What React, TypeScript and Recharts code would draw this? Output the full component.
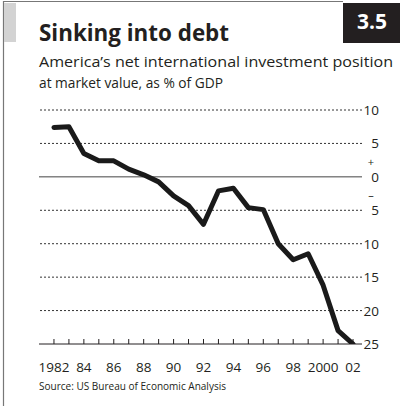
import React from 'react';
import { LineChart, Line, XAxis, YAxis, ReferenceLine } from 'recharts';

const years = [1982, 1983, 1984, 1985, 1986, 1987, 1988, 1989, 1990, 1991, 1992, 1993, 1994, 1995, 1996, 1997, 1998, 1999, 2000, 2001, 2002];
const netPosition = [7.4, 7.5, 3.5, 2.4, 2.4, 1.15, 0.3, -0.75, -2.85, -4.3, -7.1, -2.1, -1.7, -4.6, -4.9, -10.0, -12.4, -11.5, -16.2, -23.0, -25.0];
const yearLabels: Record<number, string> = {
  1982: '1982', 1984: '84', 1986: '86', 1988: '88', 1990: '90', 1992: '92',
  1994: '94', 1996: '96', 1998: '98', 2000: '2000', 2002: '02',
};
const yTicks = [10, 5, 0, -5, -10, -15, -20, -25];
const dottedGrid = [10, 5, -5, -10, -15, -20];

const title = 'Sinking into debt';
const subtitle1 = 'America\u2019s net international investment position';
const subtitle2 = 'at market value, as % of GDP';
const chartNumber = '3.5';
const source = 'Source: US Bureau of Economic Analysis';

const data = years.map((year, i) => ({ year, value: netPosition[i] }));

const FONT = '"Open Sans", Lato, sans-serif';
const INK = '#231f20';

const XTick = (props: any) => {
  const { x, y, payload } = props;
  const label = yearLabels[payload.value];
  return (
    <g>
      <line x1={x} x2={x} y1={y - 5} y2={y} stroke={INK} strokeWidth={1} />
      {label ? (
        <text x={x} y={y + 28} textAnchor="middle" fontFamily={FONT} fontSize={13.5} fill={INK}>
          {label}
        </text>
      ) : null}
    </g>
  );
};

const YTick = (props: any) => {
  const { x, y, payload } = props;
  const v = payload.value as number;
  return (
    <g>
      <text x={x + 17} y={y + 5} textAnchor="end" fontFamily={FONT} fontSize={13.5} fill={INK}>
        {Math.abs(v)}
      </text>
      {v === 0 ? (
        <>
          <text x={x + 9} y={y - 10.5} textAnchor="middle" fontFamily={FONT} fontSize={11} fill={INK}>+</text>
          <text x={x + 9} y={y + 22.5} textAnchor="middle" fontFamily={FONT} fontSize={11} fill={INK}>{'\u2013'}</text>
        </>
      ) : null}
    </g>
  );
};

export default function App() {
  return (
    <div style={{ position: 'absolute', left: 0, top: 0, width: 402, height: 406, background: '#fff', overflow: 'hidden' }}>
      <LineChart width={402} height={406} data={data} margin={{ top: 110, right: 20, bottom: 32, left: 39 }}>
        {dottedGrid.map((v) => (
          <ReferenceLine key={v} y={v} stroke="#333" strokeWidth={1} strokeDasharray="2 2" ifOverflow="visible" />
        ))}
        <ReferenceLine y={0} stroke="#444" strokeWidth={1} />
        <XAxis
          dataKey="year"
          type="number"
          domain={[1981, 2002.6]}
          ticks={years}
          interval={0}
          height={30}
          tickSize={0}
          tickMargin={0}
          axisLine={{ stroke: INK, strokeWidth: 1 }}
          tickLine={false}
          tick={<XTick />}
          allowDataOverflow
        />
        <YAxis
          orientation="right"
          type="number"
          domain={[-25, 10]}
          ticks={yTicks}
          interval={0}
          width={20}
          tickSize={0}
          tickMargin={0}
          axisLine={false}
          tickLine={false}
          tick={<YTick />}
          allowDataOverflow
        />
        <Line
          type="linear"
          dataKey="value"
          stroke="#1a1a1a"
          strokeWidth={5}
          strokeLinejoin="round"
          strokeLinecap="round"
          dot={false}
          isAnimationActive={false}
        />
      </LineChart>
      <svg width={402} height={406} style={{ position: 'absolute', left: 0, top: 0, pointerEvents: 'none' }}>
        <line x1={3.5} x2={3.5} y1={1} y2={406} stroke="#777" strokeWidth={1.2} />
        <line x1={3} x2={343} y1={1.5} y2={1.5} stroke="#777" strokeWidth={1.2} />
        <rect x={4} y={3} width={12} height={39} fill="#d3d3d3" />
        <rect x={343} y={3} width={57} height={40} fill={INK} />
        <text x={372} y={29} textAnchor="middle" fontFamily={FONT} fontWeight={700} fontSize={21} fill="#fff">{chartNumber}</text>
        <text x={39} y={41} fontFamily={FONT} fontWeight={700} fontSize={23} fill={INK} textLength={190} lengthAdjust="spacingAndGlyphs">{title}</text>
        <text x={39} y={66.5} fontFamily={FONT} fontSize={15.3} fill={INK} textLength={354} lengthAdjust="spacingAndGlyphs">{subtitle1}</text>
        <text x={39} y={88} fontFamily={FONT} fontSize={15} fill={INK} textLength={184} lengthAdjust="spacingAndGlyphs">{subtitle2}</text>
        <text x={39} y={390} fontFamily={FONT} fontSize={10.5} fill={INK} textLength={187} lengthAdjust="spacingAndGlyphs">{source}</text>
      </svg>
    </div>
  );
}
